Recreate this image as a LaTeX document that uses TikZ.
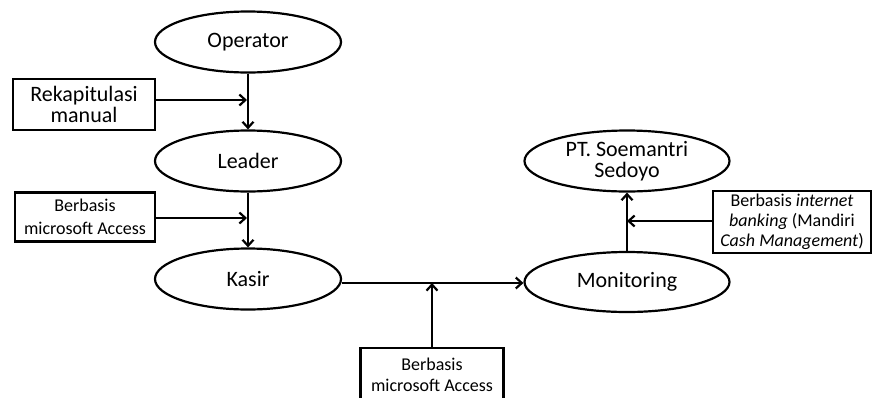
\documentclass[tikz,border=0pt]{standalone}
\usepackage{fontspec}
\setmainfont{Carlito}
\usetikzlibrary{shapes.geometric,arrows.meta}
\begin{document}
\begin{tikzpicture}[x=1pt,y=-1pt,
  ell/.style={draw,line width=2.2pt,ellipse,inner sep=0pt,align=center,font=\fontsize{22}{21}\selectfont},
  bigbox/.style={draw,line width=2.2pt,rectangle,inner sep=0pt,align=center,font=\fontsize{22}{21}\selectfont},
  smallbox/.style={draw,line width=2.2pt,rectangle,inner sep=0pt,align=center,font=\fontsize{18}{21}\selectfont},
  conn/.style={line width=2.2pt,-{Straight Barb[length=6pt,width=11pt,line width=2.2pt]}}]
\useasboundingbox (0,0) rectangle (873,397);
\node[ell,minimum width=186pt,minimum height=61pt] (op) at (248,42) {Operator};
\node[ell,minimum width=186pt,minimum height=61pt] (le) at (248,161) {Leader};
\node[ell,minimum width=186pt,minimum height=61pt] (ka) at (248,279) {Kasir};
\node[ell,minimum width=205pt,minimum height=60pt] (mo) at (627,282) {Monitoring};
\node[ell,minimum width=205pt,minimum height=61pt] (pt) at (627,161) {PT. Soemantri\\Sedoyo};
\node[bigbox,minimum width=142pt,minimum height=51pt] (rk) at (84,104.5) {Rekapitulasi\\manual};
\node[smallbox,minimum width=140pt,minimum height=49pt,font=\fontsize{18}{23}\selectfont] (b1) at (85,217) {Berbasis\\microsoft Access};
\node[smallbox,minimum width=143pt,minimum height=60pt,anchor=north] (b2) at (432,347) {\rule{0pt}{22pt}Berbasis\\microsoft Access\\[30pt]};
\node[smallbox,minimum width=158pt,minimum height=62pt,font=\fontsize{18}{20}\selectfont] (b3) at (792,222) {Berbasis \textit{internet}\\\textit{banking} (Mandiri\\\textit{Cash Management})};
\coordinate (j1) at (247,100);
\coordinate (j2) at (247,218);
\coordinate (j3) at (432,283);
\coordinate (j4) at (627,221);
\draw[conn] (op.south) -- (le.north);
\draw[conn] (le.south) -- (ka.north);
\draw[conn] (ka.east |- j3) -- (mo.west |- j3);
\draw[conn] (mo.north) -- (pt.south);
\draw[conn] (rk.east |- j1) -- (j1);
\draw[conn] (b1.east |- j2) -- (j2);
\draw[conn] (b2.north) -- (j3);
\draw[conn] (b3.west |- j4) -- (j4);
\end{tikzpicture}
\end{document}
